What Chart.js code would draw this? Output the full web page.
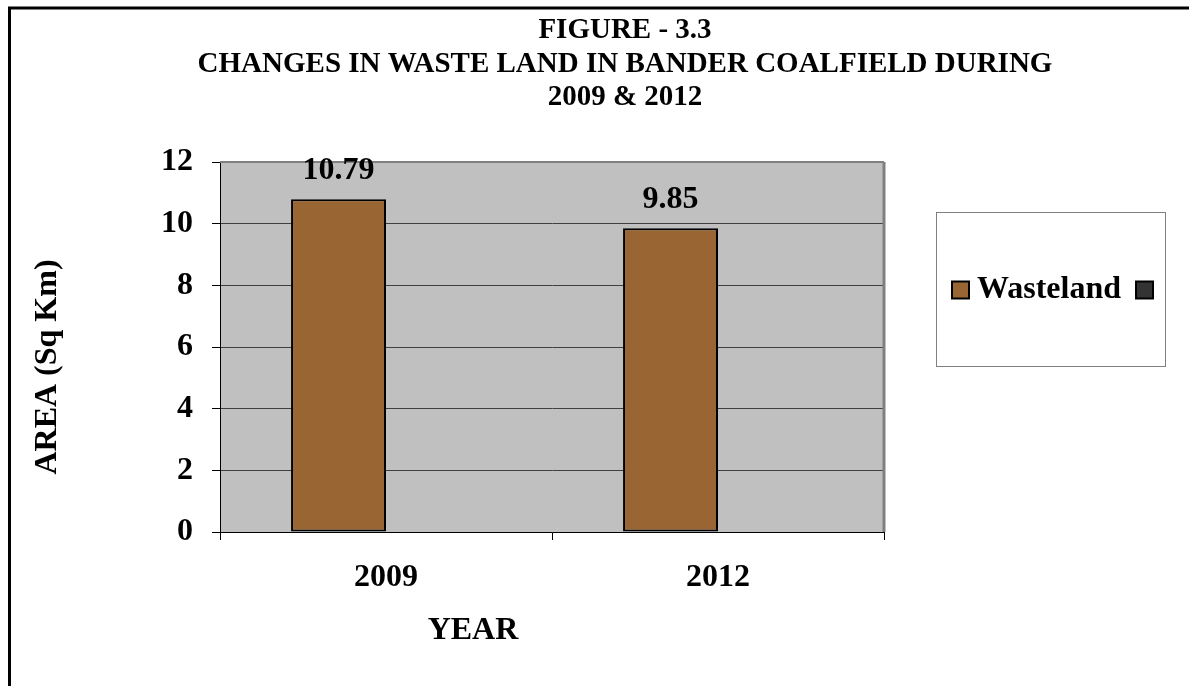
<!DOCTYPE html>
<html>
<head>
<meta charset="utf-8">
<title>Waste land 2009 & 2012</title>
<script src="https://cdn.jsdelivr.net/npm/chart.js@4.4.0/dist/chart.umd.min.js"></script>
<style>
  html, body { margin: 0; padding: 0; background: #fff; }
  #wasteChart { display: block; }
</style>
</head>
<body>
<canvas id="wasteChart" width="1189" height="686"></canvas>
<script>
// chart values
const years = ['2009', '2012'];
const wasteland = [10.79, 9.85];
const emptySeries = [null, null];   // second (blank) legend entry
const yTicks = [0, 2, 4, 6, 8, 10, 12];
const titleLines = ['FIGURE - 3.3', 'CHANGES IN WASTE LAND IN BANDER COALFIELD DURING', '2009 & 2012'];

const serif = '"Liberation Serif", "Times New Roman", serif';
Chart.defaults.font.family = serif;
Chart.defaults.color = '#000';

// outer frame, grey plot background and its border
const framePlugin = {
  id: 'frame',
  beforeDraw(chart) {
    const c = chart.ctx, a = chart.chartArea;
    c.save();
    c.fillStyle = '#fff';
    c.fillRect(0, 0, chart.width, chart.height);
    c.strokeStyle = '#000';
    c.lineWidth = 3;
    c.beginPath();
    c.moveTo(9.5, chart.height);
    c.lineTo(9.5, 8);
    c.lineTo(chart.width, 8);
    c.stroke();
    c.fillStyle = '#c0c0c0';
    c.fillRect(a.left, a.top, a.right - a.left, a.bottom - a.top);
    c.restore();
  },
  beforeDatasetsDraw(chart) {
    const c = chart.ctx, a = chart.chartArea;
    c.save();
    c.strokeStyle = '#808080';
    c.lineWidth = 2;
    c.beginPath();
    c.moveTo(a.left, a.top);
    c.lineTo(a.right, a.top);
    c.stroke();
    c.lineWidth = 3;
    c.beginPath();
    c.moveTo(a.right, a.top);
    c.lineTo(a.right, a.bottom);
    c.stroke();
    c.restore();
  }
};

// title, axis titles, value labels and the boxed legend
const textPlugin = {
  id: 'texts',
  afterDraw(chart) {
    const c = chart.ctx, a = chart.chartArea;
    c.save();
    c.fillStyle = '#000';
    c.textAlign = 'center';
    c.textBaseline = 'middle';

    c.font = 'bold 29px ' + serif;
    titleLines.forEach((t, i) => c.fillText(t, 625, 31 + i * 33.5));

    c.font = 'bold 32px ' + serif;
    c.fillText('YEAR', 473, 631);

    c.save();
    c.translate(48, 367);
    c.rotate(-Math.PI / 2);
    c.fillText('AREA (Sq Km)', 0, 0);
    c.restore();

    // value above each bar
    const meta = chart.getDatasetMeta(0);
    meta.data.forEach((bar, i) => {
      c.fillText(String(chart.data.datasets[0].data[i]), bar.x, bar.y - 29);
    });

    // legend box
    const lx = a.right + 52, ly = 212, lw = 229, lh = 154;
    c.fillStyle = '#fff';
    c.fillRect(lx, ly, lw, lh);
    c.strokeStyle = '#808080';
    c.lineWidth = 1;
    c.strokeRect(lx + 0.5, ly + 0.5, lw, lh);

    const cy = ly + lh / 2 + 1;
    const ds = chart.data.datasets;
    c.lineWidth = 2;
    c.strokeStyle = '#000';
    c.fillStyle = ds[0].backgroundColor;
    c.fillRect(lx + 16, cy - 8.5, 17, 17);
    c.strokeRect(lx + 16, cy - 8.5, 17, 17);
    c.fillStyle = '#000';
    c.textAlign = 'left';
    c.fillText(ds[0].label, lx + 41, cy);
    c.fillStyle = ds[1].backgroundColor;
    c.fillRect(lx + 200, cy - 8.5, 17, 17);
    c.strokeRect(lx + 200, cy - 8.5, 17, 17);
    c.restore();
  }
};

const ctx = document.getElementById('wasteChart').getContext('2d');
new Chart(ctx, {
  type: 'bar',
  data: {
    labels: years,
    datasets: [
      {
        label: 'Wasteland',
        data: wasteland,
        backgroundColor: '#996633',
        borderColor: '#000',
        borderWidth: 2,
        borderSkipped: false
      },
      {
        label: '',
        data: emptySeries,
        backgroundColor: '#333333',
        borderColor: '#000',
        borderWidth: 2
      }
    ]
  },
  options: {
    responsive: false,
    animation: false,
    devicePixelRatio: 1,
    datasets: {
      bar: { categoryPercentage: 0.572, barPercentage: 1.0 }
    },
    layout: { padding: { left: 0, top: 162, right: 305, bottom: 0 } },
    plugins: {
      legend: { display: false },
      title: { display: false },
      tooltip: { enabled: false }
    },
    scales: {
      x: {
        afterFit(scale) { scale.height = 154; },
        grid: { drawOnChartArea: false, drawTicks: true, tickLength: 8, color: '#000' },
        border: { display: true, color: '#000', width: 1 },
        ticks: { font: { size: 32, weight: 'bold' }, padding: 19, color: '#000' }
      },
      y: {
        min: yTicks[0],
        max: yTicks[yTicks.length - 1],
        afterFit(scale) { scale.width = 220; },
        afterBuildTicks(scale) { scale.ticks = yTicks.map(v => ({ value: v })); },
        grid: {
          color: c => (c.tick && c.tick.value === 12 ? '#808080' : '#404040'),
          tickColor: '#000',
          tickLength: 8,
          lineWidth: 1
        },
        border: { display: true, color: '#000', width: 1 },
        ticks: { font: { size: 32, weight: 'bold' }, padding: 19, color: '#000' }
      }
    }
  },
  plugins: [framePlugin, textPlugin]
});
</script>
</body>
</html>
